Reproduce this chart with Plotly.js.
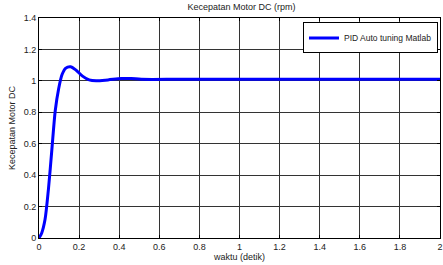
<!DOCTYPE html>
<html><head><meta charset="utf-8">
<script src="https://cdn.plot.ly/plotly-3.0.1.min.js"></script>
<style>html,body{margin:0;padding:0;background:#fff;}#c{width:443px;height:265px;}</style>
</head><body><div id="c"></div>
<script>
const timeSec = [0, 0.0136, 0.03, 0.047, 0.064, 0.081, 0.098, 0.115, 0.132, 0.158, 0.183, 0.217, 0.25, 0.285, 0.344, 0.41, 0.46, 0.51, 0.7, 1.0, 1.5, 2.0];
const speed   = [0, 0.032, 0.117, 0.31, 0.56, 0.81, 0.95, 1.04, 1.08, 1.09, 1.07, 1.03, 1.006, 1.0, 1.006, 1.015, 1.015, 1.01, 1.01, 1.01, 1.01, 1.01];
const xTicks = [0, 0.2, 0.4, 0.6, 0.8, 1, 1.2, 1.4, 1.6, 1.8, 2];
const xTickText = ['0','0.2','0.4','0.6','0.8','1','1.2','1.4','1.6','1.8','2'];
const yTicks = [0, 0.2, 0.4, 0.6, 0.8, 1, 1.2, 1.4];
const yTickText = ['0','0.2','0.4','0.6','0.8','1','1.2','1.4'];

const font = {family: 'Liberation Sans, Arial, sans-serif', size: 9, color: '#222'};
const axisCommon = {
  showline: true, linecolor: '#000', linewidth: 1, mirror: 'ticks',
  showgrid: true, gridcolor: '#333', gridwidth: 1,
  ticks: 'inside', ticklen: 3, tickcolor: '#000',
  zeroline: false, tickfont: font
};
Plotly.newPlot('c', [{
  x: timeSec, y: speed, type: 'scatter', mode: 'lines',
  line: {color: '#0000ff', width: 3, shape: 'spline', smoothing: 0.8},
  name: 'PID Auto tuning Matlab'
}], {
  width: 443, height: 265,
  margin: {l: 39, r: 3, t: 18, b: 27},
  paper_bgcolor: '#fff', plot_bgcolor: '#fff',
  font: font,
  title: {text: 'Kecepatan Motor DC (rpm)', font: font, x: 0.545, xanchor: 'center', y: 0.985, yanchor: 'top'},
  xaxis: Object.assign({}, axisCommon, {range: [0, 2], tickvals: xTicks, ticktext: xTickText,
    title: {text: 'waktu (detik)', font: font, standoff: 2}}),
  yaxis: Object.assign({}, axisCommon, {range: [0, 1.4], tickvals: yTicks, ticktext: yTickText,
    title: {text: 'Kecepatan Motor DC', font: font, standoff: 6}}),
  showlegend: true,
  legend: {x: 0.995, y: 0.98, xanchor: 'right', yanchor: 'top', bgcolor: '#fff',
    bordercolor: '#000', borderwidth: 1, font: {family: font.family, size: 8.5, color: '#222'},
    itemwidth: 30, tracegroupgap: 0}
}, {staticPlot: true, displayModeBar: false});
</script></body></html>
